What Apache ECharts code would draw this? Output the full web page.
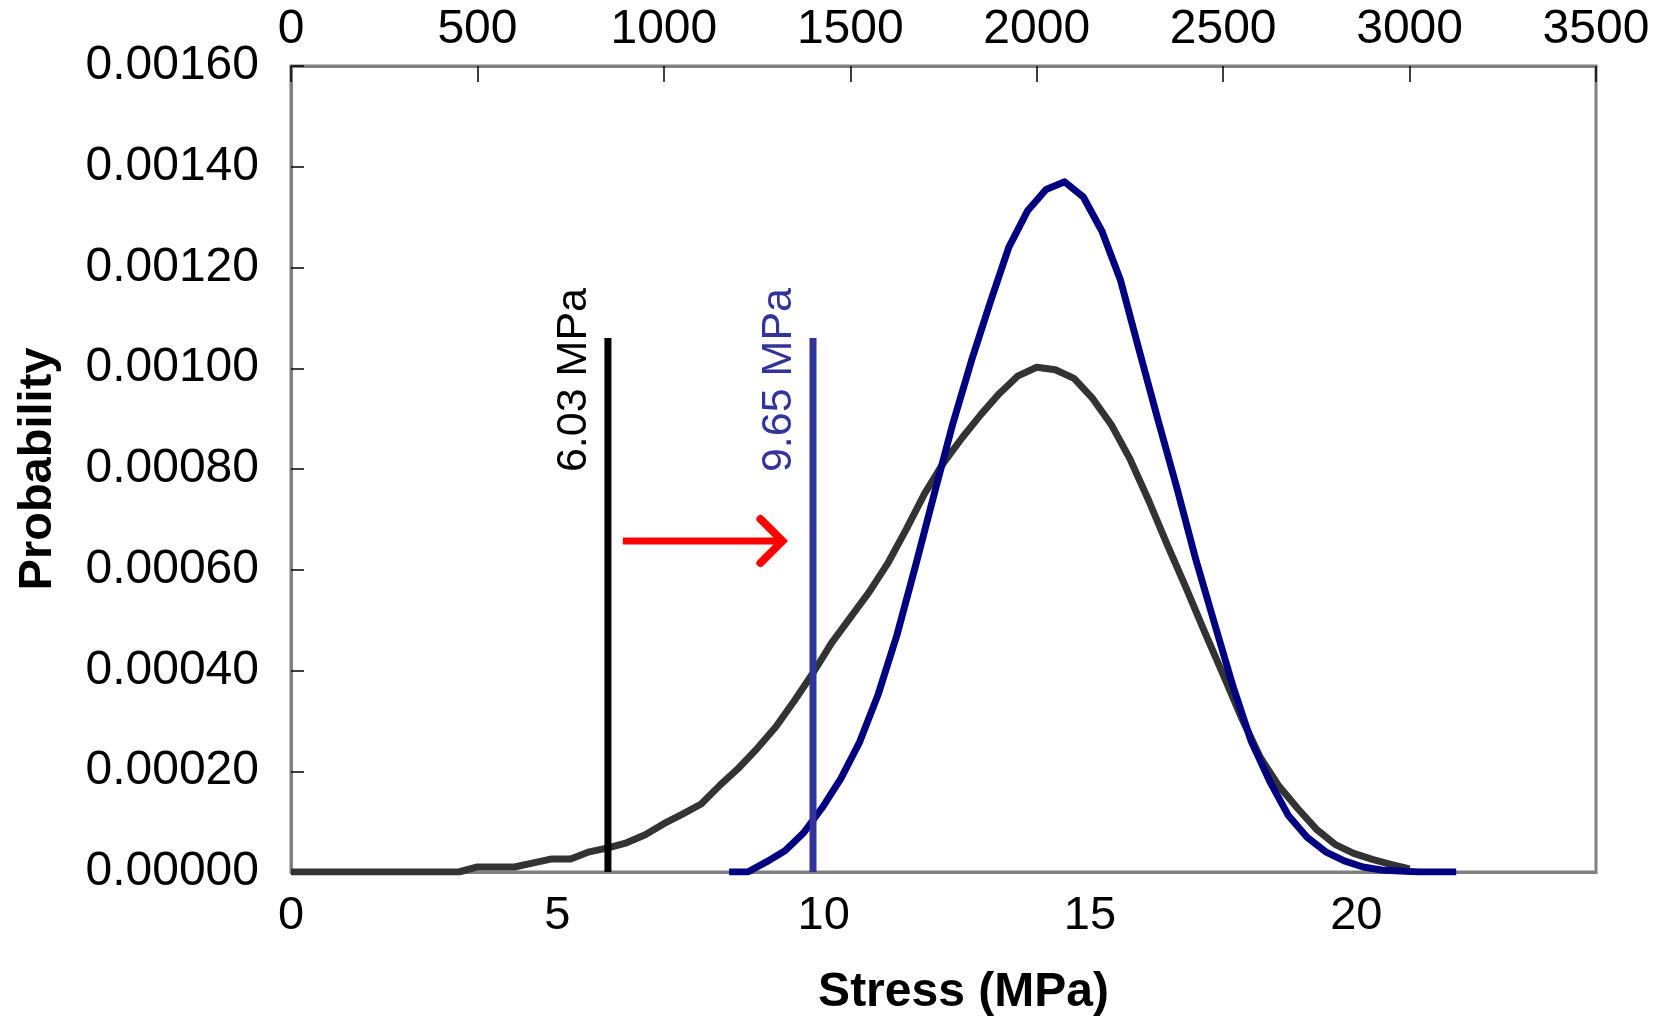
<!DOCTYPE html>
<html><head><meta charset="utf-8">
<script src="https://cdn.jsdelivr.net/npm/echarts@6/dist/echarts.min.js"></script>
<style>html,body{margin:0;padding:0;background:#fff}#c{width:1664px;height:1022px}</style>
</head><body><div id="c"></div>
<script>
// Stress in psi (top axis) and probability values
const psiBlack = [0,50,100,150,200,250,300,350,400,450,500,550,600,650,700,750,800,850,900,950,1000,1050,1100,1150,1200,1250,1300,1350,1400,1450,1500,1550,1600,1650,1700,1750,1800,1850,1900,1950,2000,2050,2100,2150,2200,2250,2300,2350,2400,2450,2500,2550,2600,2650,2700,2750,2800,2850,2900,2950,3000];
const probBlack = [0,0,0,0,0,0,0,0,0,0,0.000010,0.000010,0.000010,0.000018,0.000026,0.000026,0.000040,0.000048,0.000058,0.000074,0.000096,0.000115,0.000135,0.000172,0.000206,0.000245,0.000288,0.000340,0.000395,0.000455,0.000505,0.000555,0.000612,0.000680,0.000752,0.000812,0.000862,0.000908,0.000950,0.000985,0.001002,0.000997,0.000980,0.000940,0.000888,0.000820,0.000738,0.000650,0.000565,0.000477,0.000392,0.000305,0.000227,0.000170,0.000126,0.000085,0.000055,0.000037,0.000025,0.000015,0.000006];
const psiBlue = [1175,1225,1275,1325,1375,1425,1475,1525,1575,1625,1675,1725,1775,1825,1875,1925,1975,2025,2075,2125,2175,2225,2275,2325,2375,2425,2475,2525,2575,2625,2675,2725,2775,2825,2875,2925,2975,3025,3075,3125];
const probBlue = [0,0,0.000020,0.000042,0.000078,0.000128,0.000186,0.000258,0.000353,0.000470,0.000608,0.000750,0.000890,0.001015,0.001130,0.001240,0.001312,0.001355,0.001370,0.001340,0.001272,0.001174,0.001035,0.000898,0.000765,0.000625,0.000498,0.000372,0.000260,0.000180,0.000112,0.000069,0.000040,0.000022,0.000010,0.000004,0.000002,0,0,0];
// reference strength lines (psi position, top probability, label)
const refPsi = [850, 1400];
const refTop = [0.00106, 0.00106];
const refLabels = ['6.03 MPa', '9.65 MPa'];
// shift arrow (psi start, psi end, probability level)
const arrowFrom = 890, arrowTo = 1318, arrowProb = 0.000657;
// axes
const psiMin = 0, psiMax = 3500, psiStep = 500;
const mpaMin = 0, mpaMax = 24.5, mpaStep = 5;
const probMin = 0, probMax = 0.0016, probStep = 0.0002;

const FONT = '"Liberation Sans", Arial, sans-serif';
const chart = echarts.init(document.getElementById('c'), null, {renderer: 'canvas'});

function zip(a, b) { return a.map((v, i) => [v, b[i]]); }

function refLabelSeries(i, color) {
  return {
    type: 'custom', xAxisIndex: 1, yAxisIndex: 0, z: 5, silent: true,
    data: [[refPsi[i], refTop[i]]],
    renderItem: function (params, api) {
      const p = api.coord([api.value(0), api.value(1)]);
      return {
        type: 'text', x: p[0] - 34, y: p[1] + 42, rotation: Math.PI / 2,
        style: { text: refLabels[i], fill: color, font: '43px ' + FONT, align: 'center', verticalAlign: 'middle' }
      };
    }
  };
}

const option = {
  animation: false,
  backgroundColor: '#ffffff',
  grid: { left: 291, right: 68, top: 66, bottom: 147, show: true, borderColor: '#808080', borderWidth: 3, backgroundColor: 'transparent' },
  xAxis: [
    {
      type: 'value', position: 'bottom', min: mpaMin, max: mpaMax, interval: mpaStep,
      axisLine: { show: true, lineStyle: { color: '#808080', width: 3 } },
      axisTick: { show: false }, splitLine: { show: false },
      axisLabel: { color: '#000', fontSize: 47, fontFamily: FONT, margin: 21, showMaxLabel: false,
        formatter: v => String(v) },
      name: 'Stress (MPa)', nameLocation: 'middle', nameGap: 97,
      nameTextStyle: { color: '#000', fontSize: 48, fontWeight: 'bold', fontFamily: FONT, padding: [0, 0, 0, 40] }
    },
    {
      type: 'value', position: 'top', min: psiMin, max: psiMax, interval: psiStep,
      axisLine: { show: true, lineStyle: { color: '#808080', width: 3 } },
      axisTick: { show: true, inside: true, length: 16, lineStyle: { color: '#000', width: 1.5 } },
      splitLine: { show: false },
      axisLabel: { color: '#000', fontSize: 48, fontFamily: FONT, margin: 12, formatter: v => String(v) }
    }
  ],
  yAxis: [{
    type: 'value', min: probMin, max: probMax, interval: probStep,
    axisLine: { show: true, lineStyle: { color: '#808080', width: 3 } },
    axisTick: { show: true, inside: true, length: 13, lineStyle: { color: '#000', width: 1.5 } },
    splitLine: { show: false },
    axisLabel: { color: '#000', fontSize: 48, fontFamily: FONT, margin: 32, padding: [12, 0, 0, 0], formatter: v => v.toFixed(5) },
    name: 'Probability', nameLocation: 'middle', nameGap: 229,
    nameTextStyle: { color: '#000', fontSize: 47, fontWeight: 'bold', fontFamily: FONT }
  }],
  series: [
    { type: 'line', xAxisIndex: 1, yAxisIndex: 0, data: zip(psiBlack, probBlack), showSymbol: false, symbol: 'none',
      lineStyle: { color: '#333333', width: 7, join: 'round' }, z: 2 },
    { type: 'line', xAxisIndex: 1, yAxisIndex: 0, data: zip(psiBlue, probBlue), showSymbol: false, symbol: 'none',
      lineStyle: { color: '#000080', width: 7, join: 'round' }, z: 2 },
    { type: 'line', xAxisIndex: 1, yAxisIndex: 0, data: [[refPsi[0], 0], [refPsi[0], refTop[0]]], symbol: 'none',
      lineStyle: { color: '#000000', width: 7, cap: 'butt' }, z: 4 },
    { type: 'line', xAxisIndex: 1, yAxisIndex: 0, data: [[refPsi[1], 0], [refPsi[1], refTop[1]]], symbol: 'none',
      lineStyle: { color: '#333399', width: 7, cap: 'butt' }, z: 4 },
    refLabelSeries(0, '#000000'),
    refLabelSeries(1, '#333399'),
    {
      type: 'custom', xAxisIndex: 1, yAxisIndex: 0, z: 5, silent: true,
      data: [[arrowFrom, arrowProb, arrowTo, arrowProb]],
      renderItem: function (params, api) {
        const a = api.coord([api.value(0), api.value(1)]);
        const b = api.coord([api.value(2), api.value(3)]);
        const h = 22;
        return {
          type: 'group', children: [
            { type: 'line', shape: { x1: a[0], y1: a[1], x2: b[0] - 3, y2: b[1] }, style: { stroke: '#ff0000', lineWidth: 7 } },
            { type: 'polyline', shape: { points: [[b[0] - h, b[1] - h], [b[0], b[1]], [b[0] - h, b[1] + h]] },
              style: { stroke: '#ff0000', lineWidth: 8, lineCap: 'round', lineJoin: 'miter', fill: null } }
          ]
        };
      }
    }
  ]
};
chart.setOption(option);
</script>
</body></html>
